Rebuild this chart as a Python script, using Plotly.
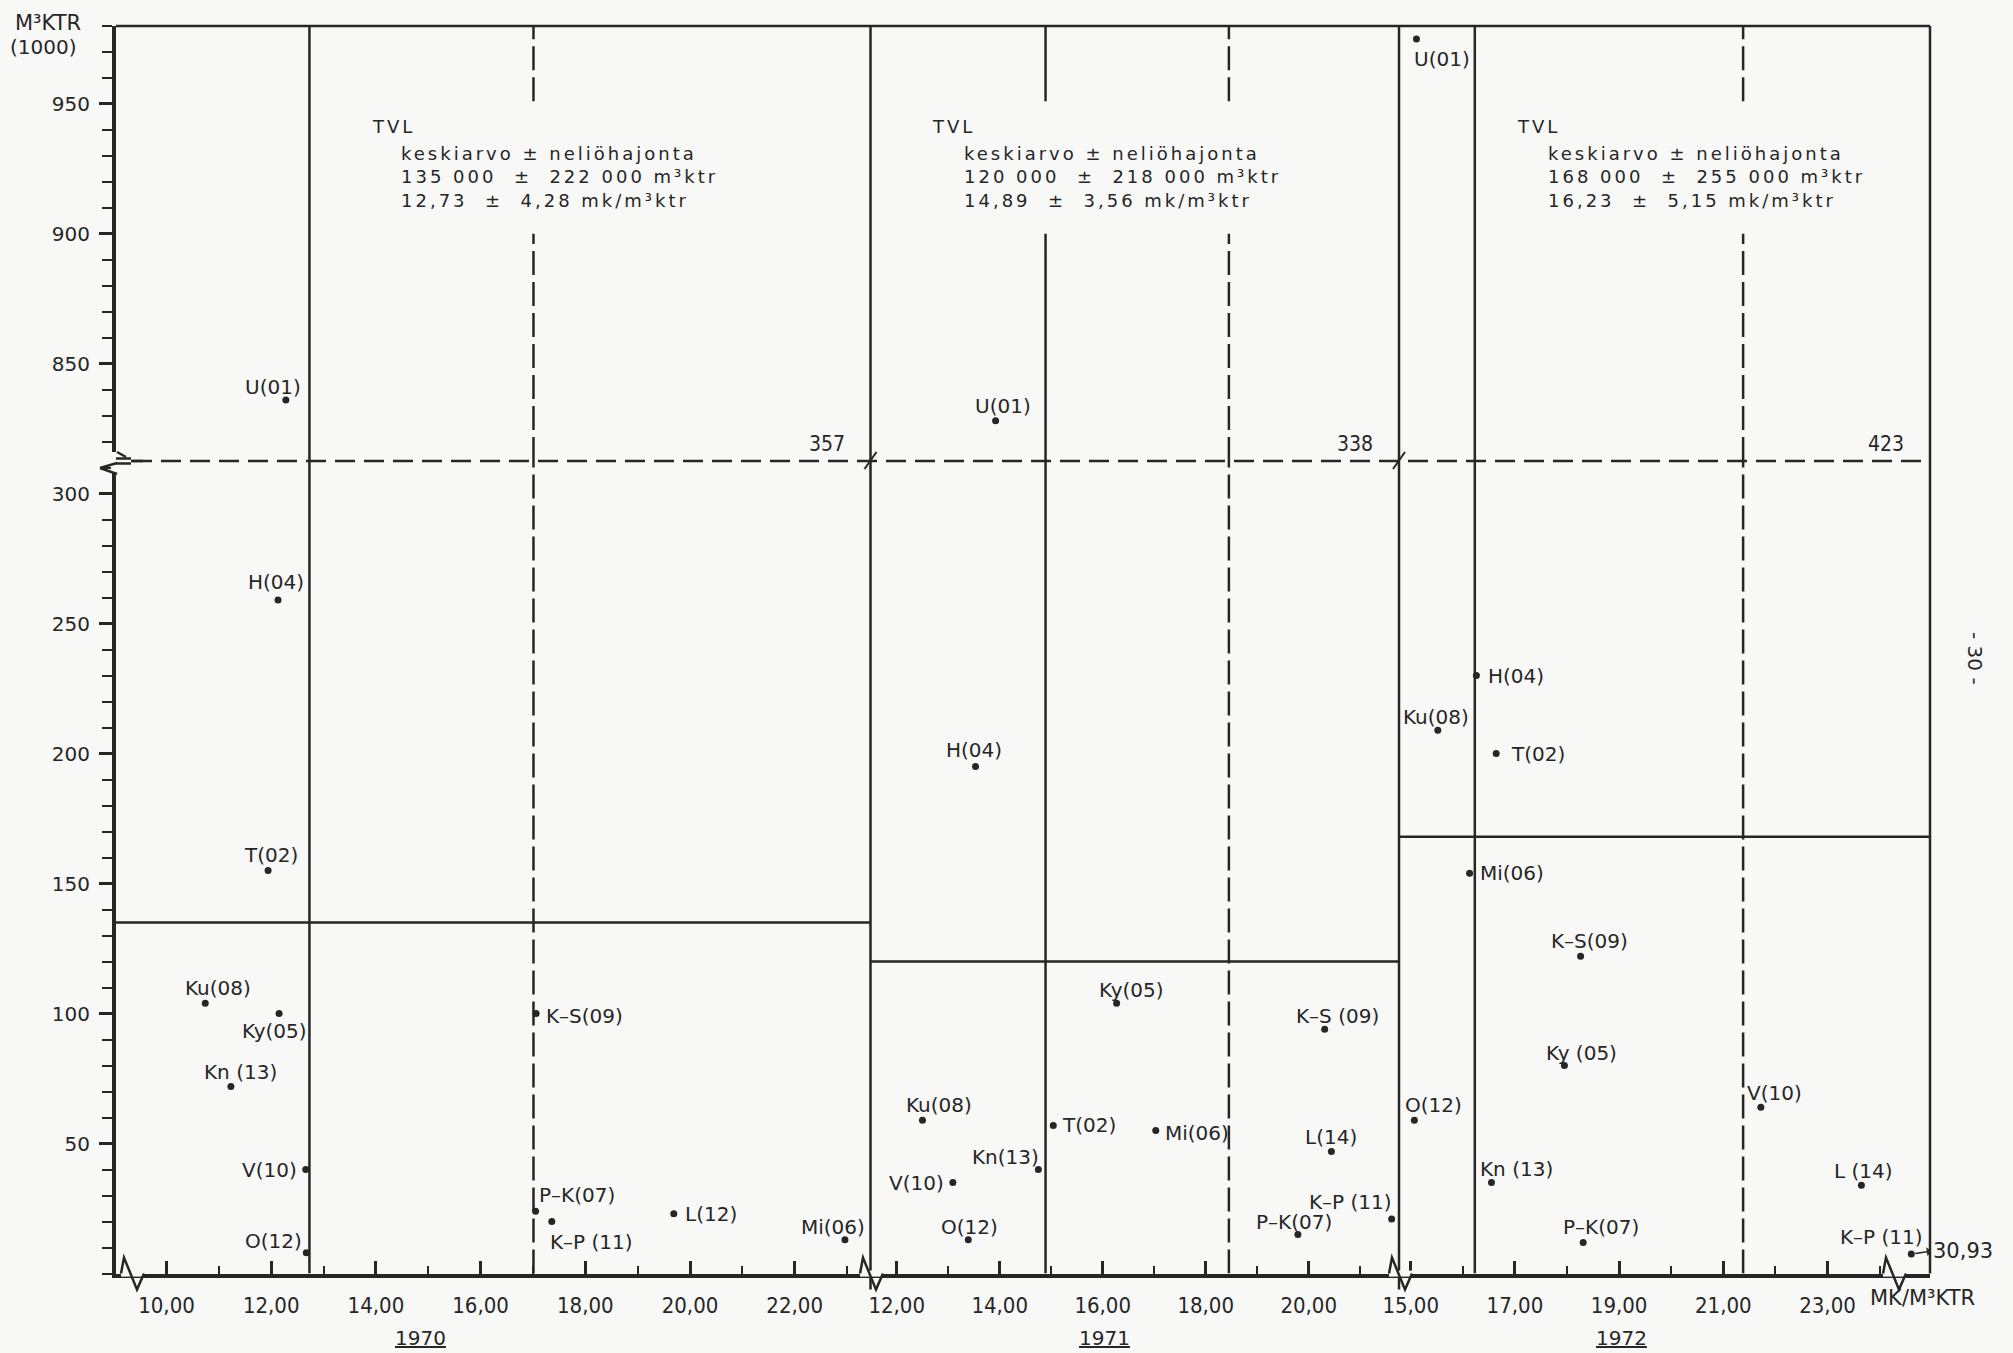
import plotly.graph_objects as go

W, H = 2013, 1353
INK = "#262626"
BG = "#f8f8f7"
FONT = "DejaVu Sans"
NARROW = "Liberation Sans Narrow, DejaVu Sans Condensed, DejaVu Sans"
COND = "DejaVu Sans Condensed, DejaVu Sans"

# ---------------- data (price mk/m3ktr, volume 1000 m3ktr) ----------------
years = [1970, 1971, 1972]

labels_1970 = ["U(01)", "T(02)", "H(04)", "Ky(05)", "Mi(06)", "P–K(07)", "Ku(08)",
               "K–S(09)", "V(10)", "K–P (11)", "L(12)", "O(12)", "Kn (13)"]
price_1970 = [12.28, 11.94, 12.13, 12.15, 22.96, 17.05, 10.74, 17.06, 12.66, 17.36, 19.69, 12.67, 11.23]
volume_1970 = [836, 155, 259, 100, 13, 24, 104, 100, 40, 20, 23, 8, 72]

labels_1971 = ["U(01)", "T(02)", "H(04)", "Ky(05)", "Mi(06)", "P–K(07)", "Ku(08)",
               "K–S (09)", "V(10)", "K–P (11)", "L(14)", "O(12)", "Kn(13)"]
price_1971 = [13.92, 15.04, 13.53, 16.27, 17.03, 19.79, 12.50, 20.31, 13.09, 21.61, 20.44, 13.39, 14.75]
volume_1971 = [828, 57, 195, 104, 55, 15, 59, 94, 35, 21, 47, 13, 40]

labels_1972 = ["U(01)", "T(02)", "H(04)", "Ky (05)", "Mi(06)", "P–K(07)", "Ku(08)",
               "K–S(09)", "V(10)", "K–P (11)", "L (14)", "O(12)", "Kn (13)"]
price_1972 = [15.11, 16.64, 16.26, 17.95, 16.13, 18.31, 15.52, 18.26, 21.72, 30.93, 23.65, 15.07, 16.55]
volume_1972 = [975, 200, 230, 80, 154, 12, 209, 122, 64, 7.5, 34, 59, 35]

mean_volume = [135, 120, 168]      # 1000 m3ktr
sd_volume = [222, 218, 255]
mean_price = [12.73, 14.89, 16.23]  # mk/m3ktr
sd_price = [4.28, 3.56, 5.15]

y_ticks_lower = [50, 100, 150, 200, 250, 300]
y_ticks_upper = [850, 900, 950]
x_ticks_1970 = [10, 12, 14, 16, 18, 20, 22]
x_ticks_1971 = [12, 14, 16, 18, 20]
x_ticks_1972 = [15, 17, 19, 21, 23]

# ---------------- label placement (anchor, dx px, dy px) ----------------
offsets_1970 = [("center", -13, -13), ("center", 3, -16), ("center", -2, -18), ("center", -5, 17),
                ("center", -12, -13), ("left", 1, -16), ("center", 13, -15), ("left", 8, 2),
                ("right", -7, 0), ("left", -4, 20), ("left", 9, 0), ("right", -2, -12),
                ("center", 10, -14)]
offsets_1971 = [("center", 7, -15), ("left", 7, 0), ("center", -2, -17), ("center", 15, -13),
                ("left", 7, 2), ("center", -4, -13), ("center", 17, -15), ("center", 13, -13),
                ("right", -7, 0), ("right", 2, -17), ("center", 0, -14), ("center", 1, -13),
                ("right", 3, -13)]
offsets_1972 = [("left", -4, 20), ("left", 13, 0), ("left", 10, 0), ("center", 17, -13),
                ("left", 8, 0), ("center", 18, -15), ("center", -2, -13), ("center", 9, -15),
                ("center", 14, -14), ("center", -30, -17), ("center", 2, -14), ("center", 19, -15),
                ("center", 25, -14)]

# ---------------- geometry ----------------
def fx(p):
    return p / W


def fy(p):
    return 1 - p / H


PANEL_PX = [(116, 870.5), (870.5, 1399), (1399, 1930)]
X_RANGE = [(9.035, 23.448), (11.491, 21.753), (14.775, 24.967)]
OVER_PX = (1891, 1930)
OVER_RANGE = (30.54, 31.29)
LOW_PX = (461, 1273.6)
LOW_RANGE = (0, 312.5)
UP_PX = (26, 461)
UP_RANGE = (812.5, 980)
TEXT_GAP = (900, 951)
TVL_X = [13.89, 12.65, 17.0]
BLOCK_X = [14.45, 13.27, 17.59]
DASH = "20px,9px"
VDASH = "24px,7px"

series = [
    (labels_1970, price_1970, volume_1970, offsets_1970, x_ticks_1970),
    (labels_1971, price_1971, volume_1971, offsets_1971, x_ticks_1971),
    (labels_1972, price_1972, volume_1972, offsets_1972, x_ticks_1972),
]
xnames = ["x", "x2", "x3"]

fig = go.Figure()
annotations = []
shapes = []


def fmt_dec(v, nd=2):
    return f"{v:.{nd}f}".replace(".", ",")


for i, yr in enumerate(years):
    labels, price, vol, offs, _ = series[i]
    xr = X_RANGE[i]
    groups = {}
    for lab, p, v, (anc, dx, dy) in zip(labels, price, vol, offs):
        xa = xnames[i] if p <= xr[1] else "x4"
        ya = "y" if v <= LOW_RANGE[1] else "y2"
        groups.setdefault((xa, ya), ([], []))
        groups[(xa, ya)][0].append(p)
        groups[(xa, ya)][1].append(v)
        annotations.append(dict(x=p, y=v, xref=xa, yref=ya, text=lab, showarrow=False,
                                xanchor=anc, yanchor="middle", xshift=dx, yshift=-dy,
                                font=dict(family=FONT, size=20, color=INK)))
        if xa == "x4":
            # off-scale value: arrow from the dot towards its real value
            annotations.append(dict(x=p, y=v, xref=xa, yref=ya, text=fmt_dec(p), showarrow=True,
                                    arrowside="start", arrowhead=2, arrowsize=1, arrowwidth=1.5,
                                    arrowcolor=INK, ax=20, ay=-3, standoff=4,
                                    xanchor="left", yanchor="middle",
                                    font=dict(family=FONT, size=21, color=INK)))
    for (xa, ya), (px_, py_) in groups.items():
        fig.add_trace(go.Scatter(x=px_, y=py_, xaxis=xa, yaxis=ya, mode="markers",
                                 marker=dict(size=7, color=INK), hoverinfo="skip",
                                 showlegend=False))

    xref = xnames[i]
    # vertical mean and mean+sd price lines
    for val, dash in [(mean_price[i], "solid"), (mean_price[i] + sd_price[i], VDASH),
                      (mean_price[i] - sd_price[i], VDASH)]:
        if not (xr[0] < val < xr[1]):
            continue
        line = dict(color=INK, width=2.5, dash=dash)
        shapes.append(dict(type="line", xref=xref, yref="y", x0=val, x1=val,
                           y0=LOW_RANGE[0], y1=LOW_RANGE[1], line=line, layer="below"))
        segs = [(UP_RANGE[0], TEXT_GAP[0]), (TEXT_GAP[1], UP_RANGE[1])] if val > TVL_X[i] else [UP_RANGE]
        for a, b in segs:
            shapes.append(dict(type="line", xref=xref, yref="y2", x0=val, x1=val,
                               y0=a, y1=b, line=line, layer="below"))
    # horizontal mean volume line
    shapes.append(dict(type="line", xref=f"{xref} domain", yref="y", x0=0, x1=1,
                       y0=mean_volume[i], y1=mean_volume[i],
                       line=dict(color=INK, width=2.5), layer="below"))
    # mean + sd volume (shown at the axis break)
    annotations.append(dict(x=1, xref=f"{xref} domain", y=LOW_RANGE[1], yref="y",
                            text=str(mean_volume[i] + sd_volume[i]), showarrow=False,
                            xanchor="right", yanchor="bottom", xshift=-24, yshift=3,
                            font=dict(family=COND, size=21, color=INK)))
    # statistics text block
    sp = "letter-spacing:3px"
    annotations.append(dict(x=TVL_X[i], xref=xref, y=941.3, yref="y2",
                            text=f'<span style="{sp}">TVL</span>', showarrow=False,
                            xanchor="left", yanchor="middle",
                            font=dict(family=FONT, size=18, color=INK)))
    nb = "\u00a0"
    block = [
        f"keskiarvo{nb}±{nb}neliöhajonta",
        f"{mean_volume[i]}{nb}000{nb}{nb}±{nb}{nb}{sd_volume[i]}{nb}000{nb}m³ktr",
        f"{fmt_dec(mean_price[i])}{nb}{nb}±{nb}{nb}{fmt_dec(sd_price[i])}{nb}mk/m³ktr",
    ]
    annotations.append(dict(x=BLOCK_X[i], xref=xref, y=922, yref="y2",
                            text="<br>".join(f'<span style="{sp}">{t}</span>' for t in block),
                            showarrow=False, xanchor="left", yanchor="middle", align="left",
                            font=dict(family=FONT, size=18, color=INK)))

# ---------------- axes ----------------
layout_axes = {}
for i, name in enumerate(["xaxis", "xaxis2", "xaxis3"]):
    ticks = series[i][4]
    layout_axes[name] = dict(
        domain=[fx(PANEL_PX[i][0]), fx(PANEL_PX[i][1])], range=list(X_RANGE[i]), anchor="y",
        showline=True, linewidth=4, linecolor=INK, ticks="inside", ticklen=13, tickwidth=2.5,
        tickcolor=INK, tickmode="array", tickvals=ticks, ticktext=[fmt_dec(t) for t in ticks],
        minor=dict(ticks="inside", ticklen=8, tickwidth=2, tickcolor=INK, tickmode="linear",
                   tick0=0, dtick=1),
        showgrid=False, zeroline=False, ticklabelstandoff=9, automargin=False,
        tickfont=dict(family=NARROW, size=22, color=INK), fixedrange=True)
layout_axes["xaxis4"] = dict(domain=[fx(OVER_PX[0]), fx(OVER_PX[1])], range=list(OVER_RANGE),
                             anchor="y", visible=False, fixedrange=True, automargin=False)
ycommon = dict(anchor="x", showline=True, linewidth=4, linecolor=INK, ticks="outside", ticklen=13,
               tickwidth=2.5, tickcolor=INK, showgrid=False, zeroline=False, ticklabelstandoff=5,
               tickfont=dict(family=FONT, size=20, color=INK), fixedrange=True, tickmode="array",
               automargin=False)
layout_axes["yaxis"] = dict(ycommon, domain=[fy(LOW_PX[1]), fy(LOW_PX[0])], range=list(LOW_RANGE),
                            tickvals=y_ticks_lower,
                            minor=dict(ticks="outside", ticklen=10, tickwidth=2, tickcolor=INK,
                                       tickmode="linear", tick0=0, dtick=10))
layout_axes["yaxis2"] = dict(ycommon, domain=[fy(UP_PX[1]), fy(UP_PX[0])], range=list(UP_RANGE),
                             tickvals=y_ticks_upper,
                             minor=dict(ticks="outside", ticklen=10, tickwidth=2, tickcolor=INK,
                                        tickmode="linear", tick0=0, dtick=10))

# ---------------- frame & decorations ----------------
def pline(x0, y0, x1, y1, w=2.5, dash="solid", layer="below"):
    return dict(type="line", xref="paper", yref="paper", x0=fx(x0), y0=fy(y0), x1=fx(x1), y1=fy(y1),
                line=dict(color=INK, width=w, dash=dash), layer=layer)


left, right = PANEL_PX[0][0], PANEL_PX[2][1]
shapes.append(pline(left, UP_PX[0], right, UP_PX[0], w=2.5))                   # top frame
shapes.append(pline(right, UP_PX[0], right, LOW_PX[1], w=2.5))                 # right frame
for xb in (PANEL_PX[1][0], PANEL_PX[2][0]):
    shapes.append(pline(xb, UP_PX[0], xb, LOW_PX[1] + 16, w=2.5))               # panel separators
    shapes.append(pline(xb - 6, 469, xb + 6, 452, w=2, layer="above"))           # slash on break line
shapes.append(pline(left + 16, LOW_PX[0], right, LOW_PX[0], w=2.5, dash=DASH))  # break line

# y-axis break symbol
shapes.append(dict(type="rect", xref="paper", yref="paper", x0=fx(111), x1=fx(121), y0=fy(473),
                   y1=fy(452), fillcolor=BG, line=dict(width=0), layer="above"))
for seg in [((117, 452), (126, 457)), ((116, 458.5), (131, 458.5)), ((116, 463.5), (131, 463.5)),
            ((117, 463), (100, 468)), ((100, 468), (117, 474)), ((131, 461), (143, 461))]:
    shapes.append(pline(seg[0][0], seg[0][1], seg[1][0], seg[1][1], w=2.5, layer="above"))

# x-axis break symbols
ax_y = LOW_PX[1]
for xb in (133, 872, 1401, 1895):
    shapes.append(dict(type="rect", xref="paper", yref="paper", x0=fx(xb - 12), x1=fx(xb + 11),
                       y0=fy(ax_y + 3), y1=fy(ax_y - 3), fillcolor=BG, line=dict(width=0),
                       layer="above"))
    path = (f"M {fx(xb - 12)},{fy(ax_y)} L {fx(xb - 9)},{fy(ax_y - 16)} "
            f"L {fx(xb + 4)},{fy(ax_y + 16)} L {fx(xb + 11)},{fy(ax_y)}")
    shapes.append(dict(type="path", xref="paper", yref="paper", path=path,
                       line=dict(color=INK, width=2.5), layer="above"))

# ---------------- free text ----------------
def ptext(x, y, text, size=20, anchor="left", family=FONT, angle=0):
    return dict(x=fx(x), y=fy(y), xref="paper", yref="paper", text=text, showarrow=False,
                xanchor=anchor, yanchor="middle", textangle=angle,
                font=dict(family=family, size=size, color=INK))


annotations += [
    ptext(13, 23, "M³KTR", size=21),
    ptext(8, 47, "(1000)"),
    ptext(1868, 1298, "MK/M³KTR", size=21),
    ptext(420, 1338, "<u>1970</u>", anchor="center"),
    ptext(1104, 1338, "<u>1971</u>", anchor="center"),
    ptext(1621, 1338, "<u>1972</u>", anchor="center"),
    ptext(1975, 658, "- 30 -", anchor="center", size=20, angle=90),
]

fig.update_layout(
    width=W, height=H, margin=dict(l=0, r=0, t=0, b=0, pad=0, autoexpand=False), autosize=False,
    paper_bgcolor=BG, plot_bgcolor="rgba(0,0,0,0)", showlegend=False,
    shapes=shapes, annotations=annotations, **layout_axes,
)

fig.write_html("out.html", config={"displayModeBar": False},
               post_script="document.body.style.margin='0';document.body.style.overflow='hidden';")
